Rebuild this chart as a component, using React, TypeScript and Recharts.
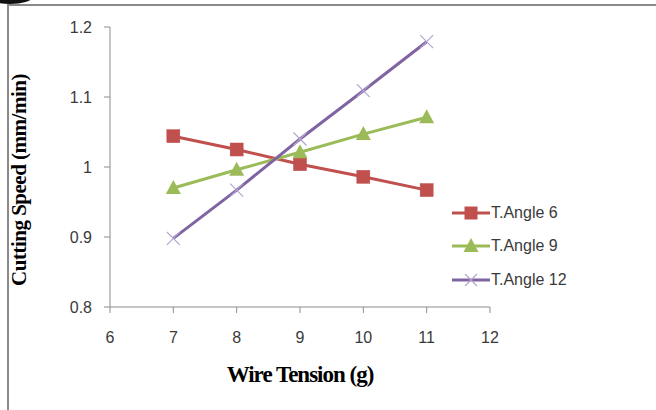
import React from 'react';
import { LineChart, Line, XAxis, YAxis, Legend, Label } from 'recharts';

const tensions = [7, 8, 9, 10, 11];
const angle6 = [1.044, 1.025, 1.004, 0.986, 0.967];
const angle9 = [0.970, 0.996, 1.021, 1.047, 1.071];
const angle12 = [0.898, 0.967, 1.040, 1.109, 1.179];
const xTicks = [6, 7, 8, 9, 10, 11, 12];
const yTicks = [0.8, 0.9, 1, 1.1, 1.2];
const seriesNames = ['T.Angle 6', 'T.Angle 9', 'T.Angle 12'];

const data = tensions.map((t, i) => ({ t, a6: angle6[i], a9: angle9[i], a12: angle12[i] }));

const RED = '#C0504D';
const GREEN = '#9BBB59';
const PURPLE = '#8064A2';
const XCOLOR = '#B4A4D0';
const AXIS = '#8C8C8C';
const TEXT = '#3A3A3A';
const FONT = '"Liberation Sans", Arial, sans-serif';
const SERIF = '"Liberation Serif", "Times New Roman", serif';

const SquareDot = (props: any) => {
  const { cx, cy } = props;
  if (cx == null || cy == null) return null;
  return <rect x={cx - 6.5} y={cy - 6.5} width={13} height={13} fill={RED} stroke={RED} strokeWidth={0.5} />;
};
const TriDot = (props: any) => {
  const { cx, cy } = props;
  if (cx == null || cy == null) return null;
  return <polygon points={`${cx},${cy - 8} ${cx + 7.5},${cy + 6} ${cx - 7.5},${cy + 6}`} fill={GREEN} />;
};
const XDot = (props: any) => {
  const { cx, cy } = props;
  if (cx == null || cy == null) return null;
  const s = 6.5;
  return (
    <g stroke={XCOLOR} strokeWidth={1.2}>
      <line x1={cx - s} y1={cy - s} x2={cx + s} y2={cy + s} />
      <line x1={cx - s} y1={cy + s} x2={cx + s} y2={cy - s} />
    </g>
  );
};

const legendIcons = [
  (cx: number, cy: number) => <rect x={cx - 6.5} y={cy - 6.5} width={13} height={13} fill={RED} />,
  (cx: number, cy: number) => <polygon points={`${cx},${cy - 8} ${cx + 7.5},${cy + 6} ${cx - 7.5},${cy + 6}`} fill={GREEN} />,
  (cx: number, cy: number) => (
    <g stroke={XCOLOR} strokeWidth={1.2}>
      <line x1={cx - 6} y1={cy - 6} x2={cx + 6} y2={cy + 6} />
      <line x1={cx - 6} y1={cy + 6} x2={cx + 6} y2={cy - 6} />
    </g>
  ),
];
const legendColors = [RED, GREEN, PURPLE];

const LegendContent = () => (
  <div style={{ fontFamily: FONT, fontSize: 16, color: TEXT }}>
    {seriesNames.map((n, i) => (
      <div key={n} style={{ display: 'flex', alignItems: 'center', height: 33.5 }}>
        <svg width={40} height={20} style={{ display: 'block' }}>
          <line x1={1} y1={10} x2={39} y2={10} stroke={legendColors[i]} strokeWidth={3} />
          {legendIcons[i](20, 10)}
        </svg>
        <span style={{ marginLeft: 0 }}>{n}</span>
      </div>
    ))}
  </div>
);

const YTitle = (props: any) => {
  const vb = props.viewBox || {};
  const x = 19;
  const y = (vb.y || 0) + (vb.height || 0) / 2 + 13;
  return (
    <text x={x} y={y} transform={`rotate(-90, ${x}, ${y})`} textAnchor="middle" dominantBaseline="central"
      fontFamily={SERIF} fontWeight="bold" fontSize={21} letterSpacing={-0.5} fill="#000">
      Cutting Speed (mm/min)
    </text>
  );
};

export default function App() {
  return (
    <div style={{ position: 'absolute', left: 0, top: 0, width: 656, height: 410, background: '#fff', overflow: 'hidden' }}>
      <div style={{ position: 'absolute', left: 7, top: 4, width: 660, height: 420, borderLeft: `2px solid #8A8A8A`, borderTop: `2px solid #8A8A8A` }} />
      <div style={{ position: 'absolute', left: -12, top: -9, width: 44, height: 13, background: '#111', borderRadius: '50%' }} />
      <LineChart width={656} height={410} data={data} margin={{ top: 27, right: 166, bottom: 73, left: 50 }}>
        <XAxis dataKey="t" type="number" domain={[6, 12]} ticks={xTicks} height={30}
          stroke={AXIS} tickLine={{ stroke: AXIS }} tickSize={6} tickMargin={19}
          tick={{ fill: TEXT, fontSize: 16, fontFamily: FONT }}>
          <Label value="Wire Tension (g)" position="bottom" offset={29}
            style={{ fontFamily: SERIF, fontWeight: 'bold', fontSize: 23, letterSpacing: -1, fill: '#000' }} />
        </XAxis>
        <YAxis type="number" domain={[0.8, 1.2]} ticks={yTicks} width={60}
          stroke={AXIS} tickLine={{ stroke: AXIS }} tickSize={6} tickMargin={12}
          tick={{ fill: TEXT, fontSize: 16, fontFamily: FONT }}>
          <Label content={<YTitle />} />
        </YAxis>
        <Legend layout="vertical" align="center" verticalAlign="middle" content={<LegendContent />}
          wrapperStyle={{ left: 451, top: 196, width: 200 }} />
        <Line dataKey="a6" name={seriesNames[0]} stroke={RED} strokeWidth={3} dot={<SquareDot />} isAnimationActive={false} />
        <Line dataKey="a9" name={seriesNames[1]} stroke={GREEN} strokeWidth={3} dot={<TriDot />} isAnimationActive={false} />
        <Line dataKey="a12" name={seriesNames[2]} stroke={PURPLE} strokeWidth={3} dot={<XDot />} isAnimationActive={false} />
      </LineChart>
    </div>
  );
}
